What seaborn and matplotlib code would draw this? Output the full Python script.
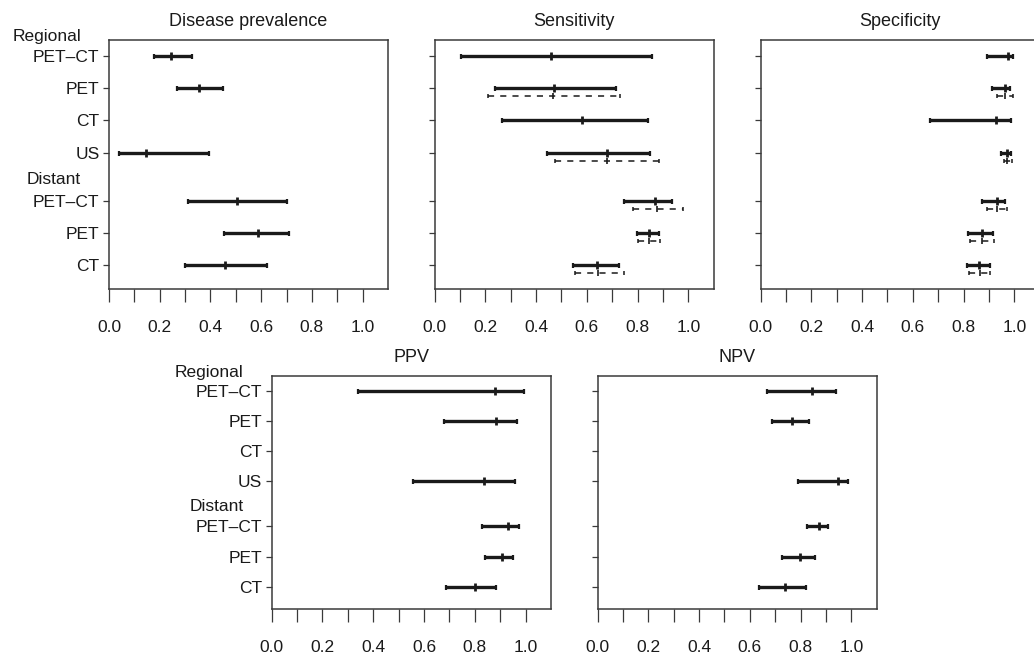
import numpy as np
import pandas as pd
import matplotlib
matplotlib.use("Agg")
import matplotlib.pyplot as plt
import matplotlib.transforms as mtransforms
import seaborn as sns

nan = np.nan

# ---- data -------------------------------------------------------------
row_labels = ["PET\u2013CT", "PET", "CT", "US", "PET\u2013CT", "PET", "CT"]
row_pos = [0, 1, 2, 3, 4.5, 5.5, 6.5]
group_labels = ["Regional", "Distant"]
group_pos = [-0.6, 3.83]
xtick_vals = [0.0, 0.1, 0.2, 0.3, 0.4, 0.5, 0.6, 0.7, 0.8, 0.9, 1.0]
xtick_labels = ["0.0", "", "0.2", "", "0.4", "", "0.6", "", "0.8", "", "1.0"]
titles = ["Disease prevalence", "Sensitivity", "Specificity", "PPV", "NPV"]

prev_lo = [0.177, 0.270, nan, 0.039, 0.312, 0.453, 0.301]
prev_est = [0.245, 0.354, nan, 0.144, 0.506, 0.587, 0.458]
prev_hi = [0.329, 0.448, nan, 0.393, 0.701, 0.711, 0.622]

sens_lo = [0.105, 0.238, 0.264, 0.442, 0.747, 0.796, 0.545]
sens_est = [0.458, 0.470, 0.581, 0.679, 0.868, 0.844, 0.641]
sens_hi = [0.856, 0.716, 0.842, 0.849, 0.934, 0.885, 0.726]
sens_alt_lo = [nan, 0.209, nan, 0.475, 0.781, 0.802, 0.553]
sens_alt_est = [nan, 0.467, nan, 0.679, 0.876, 0.844, 0.646]
sens_alt_hi = [nan, 0.730, nan, 0.885, 0.978, 0.889, 0.746]

spec_lo = [0.893, 0.911, 0.667, 0.949, 0.874, 0.819, 0.813]
spec_est = [0.976, 0.962, 0.929, 0.971, 0.930, 0.872, 0.861]
spec_hi = [0.993, 0.984, 0.987, 0.987, 0.965, 0.916, 0.903]
spec_alt_lo = [nan, 0.930, nan, 0.959, 0.893, 0.827, 0.823]
spec_alt_est = [nan, 0.962, nan, 0.971, 0.930, 0.872, 0.864]
spec_alt_hi = [nan, 0.993, nan, 0.992, 0.972, 0.919, 0.904]

ppv_lo = [0.339, 0.678, nan, 0.555, 0.829, 0.840, 0.686]
ppv_est = [0.879, 0.883, nan, 0.837, 0.932, 0.908, 0.802]
ppv_hi = [0.992, 0.966, nan, 0.958, 0.975, 0.950, 0.883]

npv_lo = [0.666, 0.688, nan, 0.791, 0.825, 0.728, 0.637]
npv_est = [0.846, 0.767, nan, 0.946, 0.873, 0.798, 0.738]
npv_hi = [0.938, 0.833, nan, 0.987, 0.910, 0.855, 0.821]

# ---- style ------------------------------------------------------------
sns.set_theme(style="ticks")
plt.rcParams["font.family"] = ["Liberation Sans", "DejaVu Sans"]
FS = 12.5
INK = "#1a1a1a"
SPINE = "#3a3a3a"

W, H = 1034, 662
fig = plt.figure(figsize=(W / 100, H / 100), dpi=100)


def box(l, r, t, b):
    return [l / W, (H - b) / H, (r - l) / W, (b - t) / H]


axes_px = [
    (109, 388, 40, 289),
    (434.5, 713.7, 40, 289),
    (760.5, 1039.7, 40, 289),
    (271.7, 551, 375.7, 609),
    (597.5, 876.7, 375.7, 609),
]

panels = [
    (prev_lo, prev_est, prev_hi, None),
    (sens_lo, sens_est, sens_hi, (sens_alt_lo, sens_alt_est, sens_alt_hi)),
    (spec_lo, spec_est, spec_hi, (spec_alt_lo, spec_alt_est, spec_alt_hi)),
    (ppv_lo, ppv_est, ppv_hi, None),
    (npv_lo, npv_est, npv_hi, None),
]


def draw_ci(ax, lo, est, hi, ypos, dashed=False):
    df = pd.DataFrame({"lo": lo, "est": est, "hi": hi, "y": ypos}).dropna()
    if df.empty:
        return
    lw = 1.1 if dashed else 2.4
    eb = ax.errorbar(df["est"], df["y"],
                     xerr=[df["est"] - df["lo"], df["hi"] - df["est"]],
                     fmt="none", ecolor=INK, elinewidth=lw,
                     capsize=1.3 if dashed else 1.8,
                     capthick=1.1 if dashed else 1.6, zorder=3)
    if dashed:
        for lc in eb[2]:
            lc.set_linestyle((0, (4, 4)))
    sns.scatterplot(data=df, x="est", y="y", ax=ax, marker="|",
                    s=14 if dashed else 28, color=INK,
                    linewidth=1.2 if dashed else 2.0, zorder=4, legend=False)


for i, ((l, r, t, b), (lo, est, hi, alt)) in enumerate(zip(axes_px, panels)):
    ax = fig.add_axes(box(l, r, t, b))
    draw_ci(ax, lo, est, hi, row_pos)
    if alt is not None:
        draw_ci(ax, alt[0], alt[1], alt[2], [p + 0.25 for p in row_pos], dashed=True)

    ax.set_xlim(0, 1.1)
    ax.set_ylim(7.24, -0.5)
    ax.set_xticks(xtick_vals)
    ax.set_xticklabels(xtick_labels)
    ax.set_yticks(row_pos)
    ax.set_xlabel("")
    ax.set_ylabel("")
    for sp in ax.spines.values():
        sp.set_color(SPINE)
        sp.set_linewidth(1.1)
    ax.tick_params(axis="x", length=9.4, width=0.9, color=SPINE, pad=13,
                   labelsize=FS, labelcolor=INK)
    ax.tick_params(axis="y", length=4.3, width=0.9, color=SPINE, pad=2.5,
                   labelsize=FS, labelcolor=INK)
    if i in (0, 3):
        ax.set_yticklabels(row_labels)
        trans = mtransforms.blended_transform_factory(ax.transAxes, ax.transData)
        for g, gp in zip(group_labels, group_pos):
            ax.text(-0.1, gp, g, transform=trans, ha="right", va="center",
                    fontsize=FS, color=INK, clip_on=False)
    else:
        ax.set_yticklabels([])
    ax.set_title(titles[i], fontsize=FS + 0.5, color=INK, pad=10)

fig.savefig("out.png", dpi=100)
